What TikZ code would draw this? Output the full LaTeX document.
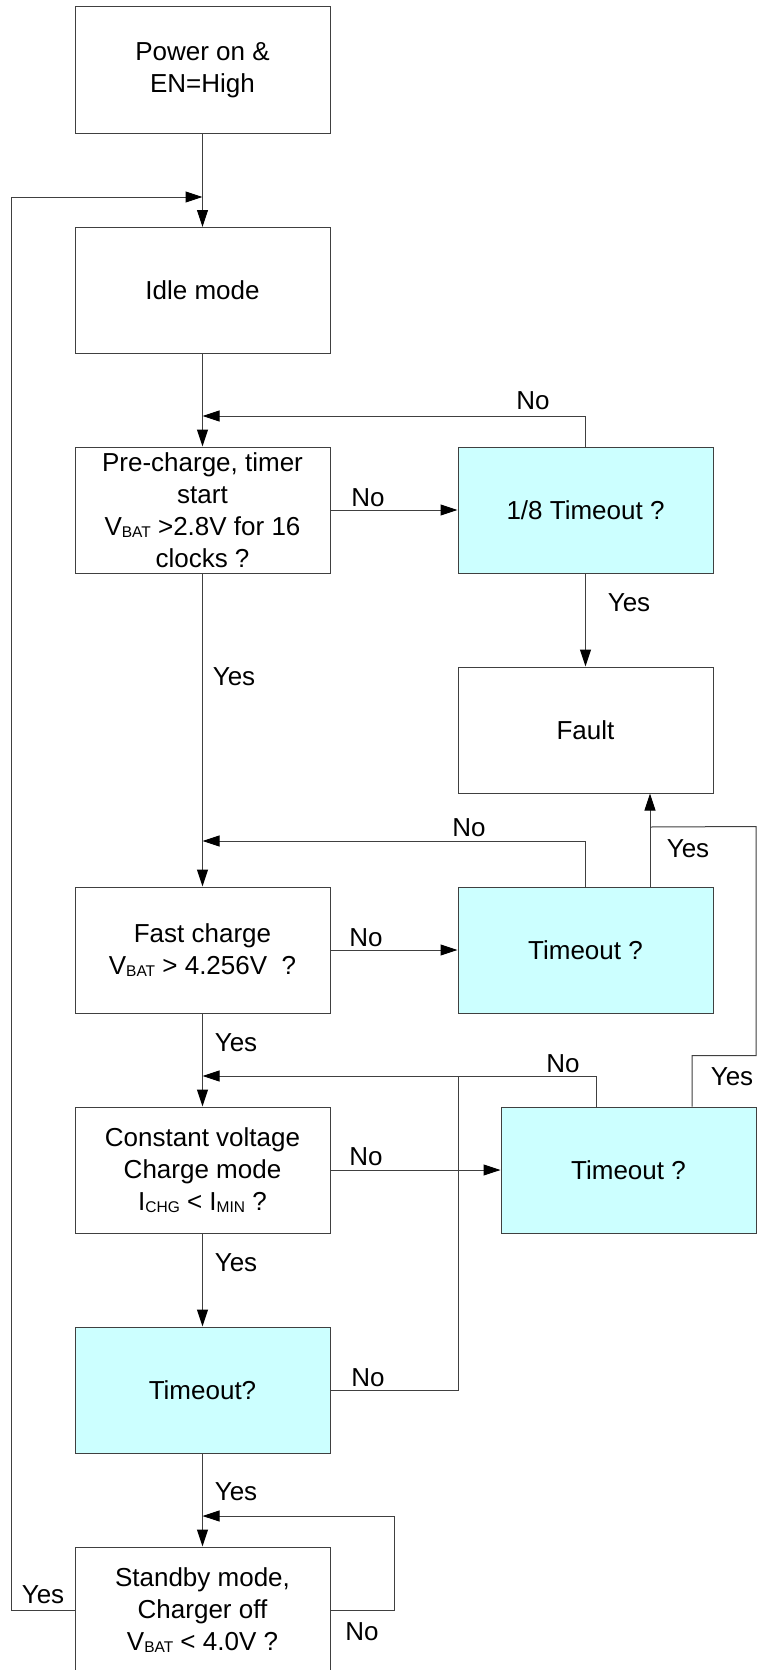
\documentclass[tikz,border=0pt]{standalone}
\usepackage{fontspec}
\setmainfont{Liberation Sans}
\usetikzlibrary{arrows.meta}
\definecolor{boxcyan}{HTML}{CCFFFF}
\definecolor{linegray}{HTML}{404040}
\newcommand{\sbs}[1]{\raisebox{-2pt}{\fontsize{15.5pt}{15.5pt}\selectfont #1}}
\newcommand{\mainfs}{\fontsize{26pt}{32pt}\selectfont}
\tikzset{
  box/.style={draw=linegray, line width=1pt, minimum width=255pt, minimum height=126pt,
              inner sep=0pt, align=center, font=\mainfs, fill=white},
  cyanbox/.style={box, fill=boxcyan},
  conn/.style={draw=linegray, line width=1pt},
  arr/.style={conn, -{Triangle[length=17pt,width=11pt,color=black]}},
  lbl/.style={inner sep=0pt, font=\mainfs}
}
\begin{document}
\begin{tikzpicture}[x=1pt,y=-1pt]
\useasboundingbox (0,0) rectangle (758,1670);
\fill[white] (0,0) rectangle (758,1670);

% boxes
\node[box] (power) at (202.5,70) {Power on \&\\EN=High};
\node[box] (idle) at (202.5,290.5) {Idle mode};
\node[box] (pre) at (202.5,510) {Pre-charge, timer\\start\\V\sbs{BAT} >2.8V for 16\\clocks ?};
\node[cyanbox] (t18) at (585.5,510) {1/8 Timeout ?};
\node[box] (fault) at (585.5,730) {Fault};
\node[box] (fast) at (202.5,950) {Fast charge\\V\sbs{BAT} > 4.256V\ \ ?};
\node[cyanbox] (t2) at (585.5,950) {Timeout ?};
\node[box] (cv) at (202.5,1170) {Constant voltage\\Charge mode\\I\sbs{CHG} < I\sbs{MIN} ?};
\node[cyanbox] (t3) at (628.5,1170) {Timeout ?};
\node[cyanbox] (tout) at (202.5,1390) {Timeout?};
\node[box] (stby) at (202.5,1610) {Standby mode,\\Charger off\\V\sbs{BAT} < 4.0V ?};

% junction coordinates
\coordinate (j1) at (202.5,197);
\coordinate (j2) at (202.5,416);
\coordinate (j3) at (202.5,841);
\coordinate (j4) at (202.5,1076);
\coordinate (j5) at (202.5,1516);
\coordinate (k) at (650,827);
\coordinate (m) at (458,1076);

% main column
\draw[arr] (power) -- (idle);
\draw[arr] (idle) -- (pre);
\draw[arr] (pre) -- (fast);
\draw[arr] (fast) -- (cv);
\draw[arr] (cv) -- (tout);
\draw[arr] (tout) -- (stby);

% to the right
\draw[arr] (pre) -- (t18);
\draw[arr] (fast) -- (t2);
\draw[arr] (cv) -- (t3);
\draw[arr] (t18) -- (fault);

% loops back
\draw[arr] (stby.west) -- ++(-63,0) |- (j1);
\draw[arr] (t18.north) |- (j2);
\draw[arr] (t2.north) |- (j3);
\draw[arr] ([xshift=64.5pt]t2.north) -- ([xshift=64.5pt]fault.south);
\draw[conn] ([xshift=63.5pt]t3.north) -- ++(0,-51) -- ++(64,0) -- ++(0,-229) -- (k);
\draw[arr] ([xshift=-32.5pt]t3.north) |- (j4);
\draw[conn] (tout.east) -| (m);
\draw[arr] (stby.east) -- ++(64,0) |- (j5);

% labels
\node[lbl] (l1) at (368,498) {No};
\node[lbl] (l2) at (533,401) {No};
\node[lbl] (l3) at (629,603) {Yes};
\node[lbl] (l4) at (234,677) {Yes};
\node[lbl] (l5) at (469,828) {No};
\node[lbl] (l6) at (688,849) {Yes};
\node[lbl] (l7) at (366,938) {No};
\node[lbl] (l8) at (236,1043) {Yes};
\node[lbl] (l9) at (563,1064) {No};
\node[lbl] (l10) at (732,1077) {Yes};
\node[lbl] (l11) at (366,1157) {No};
\node[lbl] (l12) at (236,1263) {Yes};
\node[lbl] (l13) at (368,1378) {No};
\node[lbl] (l14) at (236,1492) {Yes};
\node[lbl] (l15) at (43,1595) {Yes};
\node[lbl] (l16) at (362,1632) {No};
\end{tikzpicture}
\end{document}
